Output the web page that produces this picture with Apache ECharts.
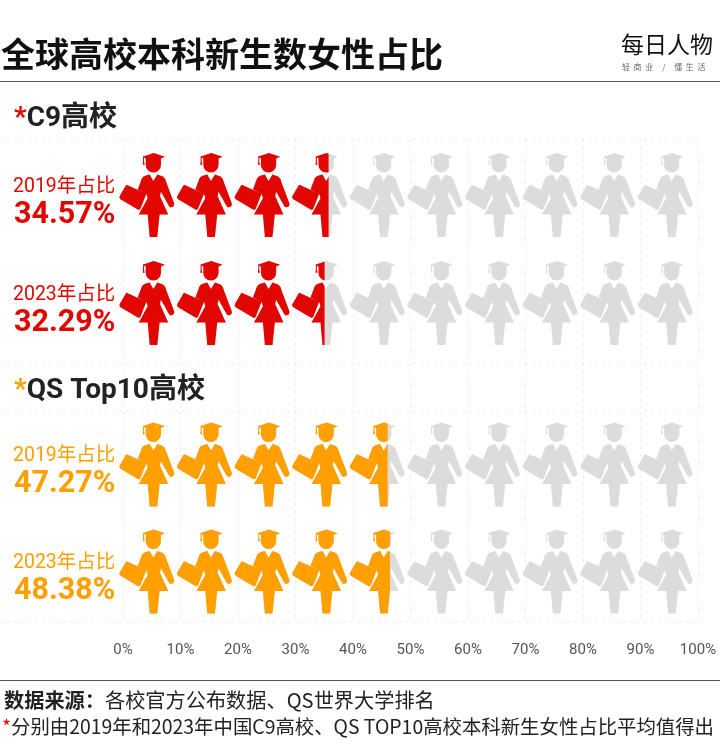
<!DOCTYPE html>
<html>
<head>
<meta charset="utf-8">
<style>
html,body{margin:0;padding:0;background:#fff;}
#chart{width:720px;height:748px;}
</style>
<script src="https://cdn.jsdelivr.net/npm/echarts@6/dist/echarts.min.js"></script>
</head>
<body>
<div id="chart"></div>
<script>
var years = ['2019年占比', '2023年占比'];
var c9Share = [34.57, 32.29];
var qsShare = [47.27, 48.38];
// how far the icons are coloured in the picture, read off the icon row (0-100 of the row)
// the original graphic does not fill exactly to the printed share
var c9Fill = [36.5, 35.8];
var qsFill = [46.8, 47.2];
var rowFull = [100, 100];
var ticks = [0, 10, 20, 30, 40, 50, 60, 70, 80, 90, 100];

var RED = '#e10600', ORANGE = '#ff9f00', GREY = '#dcdcdc';
var FONT = 'Roboto, "Noto Sans CJK SC"';
var CJK = '"Noto Sans CJK SC"';

var woman = 'path://M132 25L166 36L154 41L154 60A23 23 0 0 1 108 60L108 41L103 38.500L103 50L105 60L99 60L100 50L100 37L98 36Z' +
	'M120 89L131 108L143 89L160 95Q168 100 170 112L193 172Q197 182 188 186Q183 188 179 184L154 140L151 153L176 208L150 208L143 275L120 275L114 208L87 208L114 160L110 146L84 134L96 102Q98 96 106 93Z' +
	'M52 120L110 146L92 192Q89 195 84 193L32 163Q26 158 30 152L48 122Q50 119 52 120Z';

function rowAxis(grid, color, share) {
	return {
		type: 'category',
		gridIndex: grid,
		inverse: true,
		data: years,
		axisLine: {show: false},
		axisTick: {show: false},
		axisLabel: {
			margin: 4,
			align: 'right',
			padding: [12, 0, 0, 0],
			formatter: function (v, i) {
				return '{a|' + v + '}\n{b|' + share[i].toFixed(2) + '%}';
			},
			rich: {
				a: {fontFamily: FONT, fontSize: 19.500, color: color, lineHeight: 28, align: 'right'},
				b: {fontFamily: FONT, fontSize: 30.500, fontWeight: 'bold', color: color, lineHeight: 28, align: 'right'}
			}
		}
	};
}

function hiddenX(grid) {
	return {type: 'value', gridIndex: grid, min: 0, max: 100, show: false};
}

function iconRow(axis, data, color, clip) {
	return {
		type: 'pictorialBar',
		xAxisIndex: axis,
		yAxisIndex: axis,
		data: data,
		symbol: woman,
		symbolSize: [55, 84],
		symbolRepeat: 10,
		symbolBoundingData: 100,
		symbolClip: clip,
		barGap: '-100%',
		silent: true,
		itemStyle: {color: color},
		z: clip ? 3 : 2
	};
}

function hRule(y) {
	return {
		type: 'line',
		silent: true,
		shape: {x1: 0, y1: y, x2: 700, y2: y},
		style: {stroke: '#ececec', lineWidth: 1, lineDash: [3, 4]}
	};
}

function solidRule(y) {
	return {
		type: 'line',
		silent: true,
		shape: {x1: 0, y1: y, x2: 720, y2: y},
		style: {stroke: '#555', lineWidth: 1}
	};
}

var chart = echarts.init(document.getElementById('chart'));
chart.setOption({
	animation: false,
	backgroundColor: '#fff',
	title: [
		{text: '全球高校本科新生数女性占比', left: 1, top: 37, padding: 0, textStyle: {fontFamily: CJK, fontSize: 34, fontWeight: 'bold', color: '#111'}},
		{text: '每日人物', left: 621, top: 33, padding: 0, textStyle: {fontFamily: CJK, fontSize: 23, fontWeight: 'normal', color: '#111'}},
		{text: '轻  商  业     /     懂  生  活', left: 622, top: 63, padding: 0, textStyle: {fontFamily: CJK, fontSize: 8, fontWeight: 'normal', color: '#666'}},
		{
			text: '{s|*}{t|C9高校}', left: 14, top: 105, padding: 0,
			textStyle: {rich: {
				s: {fontFamily: FONT, fontSize: 28, fontWeight: 'bold', color: RED},
				t: {fontFamily: FONT, fontSize: 28, fontWeight: 'bold', color: '#222'}
			}}
		},
		{
			text: '{s|*}{t|QS Top10高校}', left: 14, top: 377, padding: 0,
			textStyle: {rich: {
				s: {fontFamily: FONT, fontSize: 28, fontWeight: 'bold', color: ORANGE},
				t: {fontFamily: FONT, fontSize: 28, fontWeight: 'bold', color: '#222'}
			}}
		},
		{
			text: '{b|数据来源：}{n|各校官方公布数据、QS世界大学排名}', left: 4, top: 690, padding: 0,
			textStyle: {rich: {
				b: {fontFamily: CJK, fontSize: 20.200, fontWeight: 'bold', color: '#222'},
				n: {fontFamily: CJK, fontSize: 20.200, fontWeight: 'normal', color: '#222'}
			}}
		},
		{
			text: '{s|*}{n|分别由2019年和2023年中国C9高校、QS TOP10高校本科新生女性占比平均值得出}', left: 2, top: 717, padding: 0,
			textStyle: {rich: {
				s: {fontFamily: CJK, fontSize: 19.400, fontWeight: 'normal', color: RED},
				n: {fontFamily: CJK, fontSize: 19.400, fontWeight: 'normal', color: '#222'}
			}}
		}
	],
	graphic: [hRule(139), hRule(363), hRule(411), hRule(622), solidRule(81.500), solidRule(680.500)],
	grid: [
		{left: 119.300, top: 141, width: 573.400, height: 216},
		{left: 119.300, top: 411, width: 573.400, height: 214},
		{left: 123, top: 139, width: 575, height: 483}
	],
	xAxis: [
		hiddenX(0),
		hiddenX(1),
		{
			type: 'value',
			gridIndex: 2,
			min: 0,
			max: 100,
			interval: 10,
			axisLine: {show: false},
			axisTick: {show: false},
			axisLabel: {
				margin: 21,
				fontFamily: FONT,
				fontSize: 15,
				color: '#555',
				formatter: function (v) {
					return ticks[v / 10] + '%';
				}
			},
			splitLine: {show: true, lineStyle: {color: '#ececec', type: [3, 4]}}
		}
	],
	yAxis: [
		rowAxis(0, RED, c9Share),
		rowAxis(1, ORANGE, qsShare),
		{type: 'value', gridIndex: 2, show: false, splitLine: {show: false}}
	],
	series: [
		iconRow(0, rowFull, GREY, false),
		iconRow(0, c9Fill, RED, true),
		iconRow(1, rowFull, GREY, false),
		iconRow(1, qsFill, ORANGE, true)
	]
});
</script>
</body>
</html>
